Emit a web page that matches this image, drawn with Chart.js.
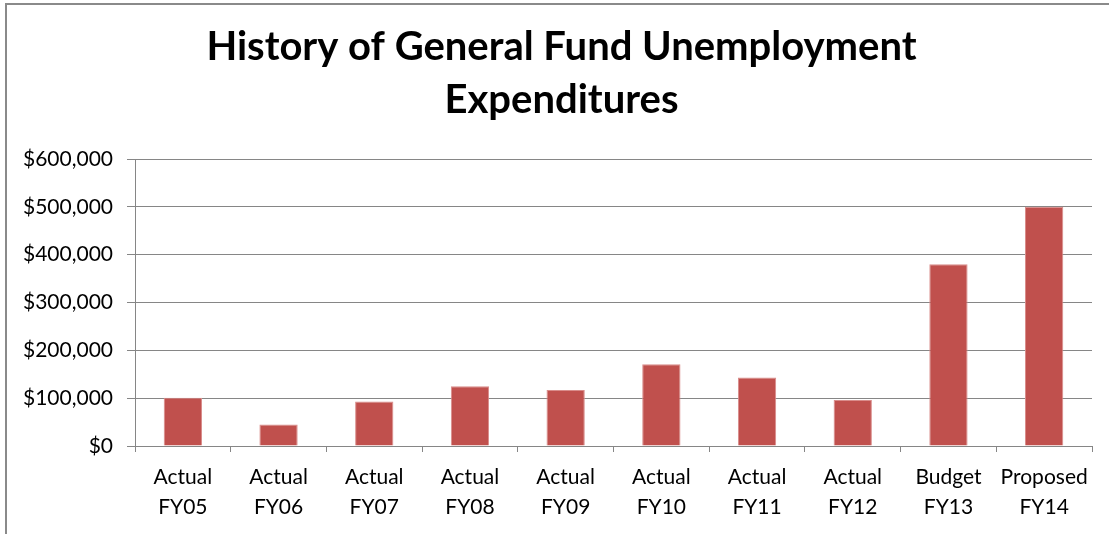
<!DOCTYPE html>
<html>
<head>
<meta charset="utf-8">
<title>History of General Fund Unemployment Expenditures</title>
<script src="https://cdn.jsdelivr.net/npm/chart.js@4.4.1/dist/chart.umd.min.js"></script>
<style>
  html, body { margin: 0; padding: 0; background: #ffffff; }
  #wrap { position: relative; width: 1109px; height: 534px; overflow: hidden; }
  #frame {
    position: absolute; left: 5px; top: 3px; width: 1200px; height: 600px;
    border-left: 2px solid #8a8a8a; border-top: 2px solid #8a8a8a;
    pointer-events: none;
  }
  canvas { position: absolute; left: 0; top: 0; }
</style>
</head>
<body>
<div id="wrap">
  <canvas id="chart" width="1109" height="534"></canvas>
  <div id="frame"></div>
</div>
<script>
// Fiscal-year categories and the status of each year's figure
const statuses = ['Actual', 'Actual', 'Actual', 'Actual', 'Actual', 'Actual', 'Actual', 'Actual', 'Budget', 'Proposed'];
const fiscalYears = ['FY05', 'FY06', 'FY07', 'FY08', 'FY09', 'FY10', 'FY11', 'FY12', 'FY13', 'FY14'];

// Unemployment expenditures in dollars
const expenditures = [101000, 45000, 93000, 125000, 117000, 171000, 143000, 96000, 380000, 500000];

// Value axis range
const axisMin = 0;
const axisMax = 600000;
const axisStep = 100000;

const chartTitle = ['History of General Fund Unemployment', 'Expenditures'];

const labels = statuses.map((s, i) => [s, fiscalYears[i]]);
const axisGray = '#868686';
const labelFont = { family: 'Lato', size: 21 };

// Nudges the title block so the heading sits a little right of the canvas centre
const titleShift = {
  id: 'titleShift',
  afterLayout(chart) {
    if (chart.titleBlock) {
      chart.titleBlock.left += 31;
    }
  }
};

new Chart(document.getElementById('chart'), {
  type: 'bar',
  data: {
    labels: labels,
    datasets: [{
      data: expenditures,
      backgroundColor: '#c0504d',
      borderColor: '#d98c8a',
      borderWidth: 1,
      borderSkipped: 'bottom',
      barPercentage: 0.4,
      categoryPercentage: 1.0
    }]
  },
  plugins: [titleShift],
  options: {
    responsive: false,
    animation: false,
    devicePixelRatio: 1,
    layout: { padding: { top: 0, left: 0, right: 17, bottom: 0 } },
    plugins: {
      legend: { display: false },
      tooltip: { enabled: false },
      title: {
        display: true,
        text: chartTitle,
        color: '#000000',
        font: { family: 'Lato', size: 40, weight: 'bold', lineHeight: 53 / 40 },
        padding: { top: 21, bottom: 32 }
      }
    },
    scales: {
      x: {
        grid: {
          offset: true,
          drawOnChartArea: false,
          drawTicks: true,
          tickLength: 6,
          color: axisGray,
          lineWidth: 1
        },
        border: { color: axisGray, width: 1 },
        ticks: {
          color: '#000000',
          font: Object.assign({}, labelFont, { lineHeight: 30 / 21 }),
          padding: 10,
          maxRotation: 0,
          autoSkip: false
        },
        afterFit: (scale) => { scale.height = 88; }
      },
      y: {
        min: axisMin,
        max: axisMax,
        grid: {
          color: axisGray,
          lineWidth: 1,
          drawTicks: true,
          tickLength: 8
        },
        border: { color: axisGray, width: 1 },
        ticks: {
          stepSize: axisStep,
          color: '#000000',
          font: labelFont,
          padding: 14,
          callback: (v) => '$' + Number(v).toLocaleString('en-US')
        },
        afterFit: (scale) => { scale.width = 135; }
      }
    }
  }
});
</script>
</body>
</html>
